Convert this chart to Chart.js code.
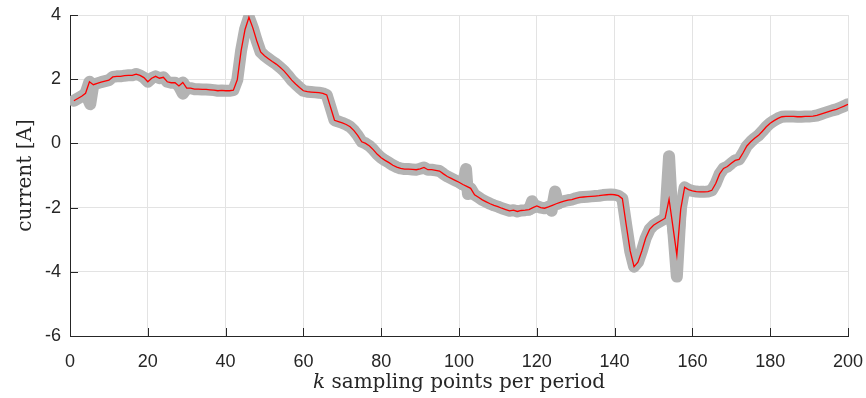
<!DOCTYPE html>
<html>
<head>
<meta charset="utf-8">
<script src="https://cdn.jsdelivr.net/npm/chart.js@4/dist/chart.umd.min.js"></script>
<style>
html,body{margin:0;padding:0;background:#ffffff;}
#wrap{width:866px;height:398px;}
</style>
</head>
<body>
<div id="wrap"><canvas id="c" width="866" height="398"></canvas></div>
<script>
// sampling index k
const kValues = [
  1,2,3,4,5,6,7,8,9,10,11,12,13,14,15,16,17,18,19,20,
  21,22,23,24,25,26,27,28,29,30,31,32,33,34,35,36,37,38,39,40,
  41,42,43,44,45,46,47,48,49,50,51,52,53,54,55,56,57,58,59,60,
  61,62,63,64,65,66,67,68,69,70,71,72,73,74,75,76,77,78,79,80,
  81,82,83,84,85,86,87,88,89,90,91,92,93,94,95,96,97,98,99,100,
  101,102,103,104,105,106,107,108,109,110,111,112,113,114,115,116,117,118,119,120,
  121,122,123,124,125,126,127,128,129,130,131,132,133,134,135,136,137,138,139,140,
  141,142,143,144,145,146,147,148,149,150,151,152,153,154,155,156,157,158,159,160,
  161,162,163,164,165,166,167,168,169,170,171,172,173,174,175,176,177,178,179,180,
  181,182,183,184,185,186,187,188,189,190,191,192,193,194,195,196,197,198,199,200
];
// mean current (red line), A
const meanCurrent = [
  1.33,1.40,1.47,1.56,1.92,1.83,1.87,1.91,1.94,1.97,2.07,2.09,2.09,2.11,2.12,2.12,2.16,2.12,2.05,1.92,
  2.03,2.09,2.03,2.06,1.92,1.89,1.89,1.79,1.90,1.72,1.72,1.69,1.69,1.68,1.68,1.67,1.66,1.64,1.65,1.64,
  1.64,1.66,1.98,2.90,3.55,3.93,3.60,3.20,2.85,2.73,2.64,2.55,2.47,2.37,2.26,2.12,1.97,1.85,1.74,1.64,
  1.61,1.60,1.59,1.58,1.56,1.51,1.12,0.72,0.68,0.64,0.59,0.52,0.40,0.24,0.05,0.00,-0.08,-0.20,-0.34,-0.45,
  -0.53,-0.60,-0.68,-0.74,-0.78,-0.80,-0.80,-0.81,-0.82,-0.79,-0.75,-0.82,-0.82,-0.84,-0.86,-0.95,-1.03,-1.09,-1.15,-1.21,
  -1.28,-1.34,-1.40,-1.60,-1.68,-1.76,-1.82,-1.88,-1.93,-1.97,-2.02,-2.06,-2.10,-2.08,-2.12,-2.09,-2.08,-2.06,-2.00,-1.95,
  -2.00,-2.02,-1.98,-1.93,-1.88,-1.84,-1.80,-1.77,-1.75,-1.71,-1.68,-1.67,-1.66,-1.65,-1.64,-1.63,-1.61,-1.60,-1.59,-1.60,
  -1.63,-1.72,-2.55,-3.35,-3.84,-3.70,-3.35,-2.95,-2.68,-2.55,-2.47,-2.40,-2.33,-1.74,-2.60,-3.48,-2.05,-1.37,-1.44,-1.48,
  -1.50,-1.51,-1.51,-1.50,-1.46,-1.25,-0.95,-0.78,-0.72,-0.62,-0.53,-0.50,-0.30,-0.08,0.05,0.16,0.25,0.38,0.52,0.63,
  0.71,0.78,0.83,0.84,0.84,0.84,0.83,0.83,0.84,0.84,0.85,0.87,0.91,0.95,0.99,1.03,1.06,1.11,1.16,1.22
];
// outlying gray sample excursions (null separates segments)
const spikeK = [4,5.2,6, null, 28,29,30, null, 101,101.8,102.3,103, null, 118,118.8,119.5, null, 123,123.8,124.7,125.5, null, 153,154,155,156,157];
const spikeV = [1.56,1.22,1.83, null, 1.79,1.55,1.72, null, -1.28,-0.80,-1.58,-1.45, null, -2.06,-1.80,-1.97, null, -1.98,-2.10,-1.50,-1.88, null, -2.33,-0.40,-2.60,-4.15,-2.05];

const xTicks = [0,20,40,60,80,100,120,140,160,180,200];
const yTicks = [-6,-4,-2,0,2,4];

const meanPts = kValues.map((k,i)=>({x:k, y:meanCurrent[i]}));
const spikePts = spikeK.map((k,i)=>({x:(k===null?null:k), y:spikeV[i]}));

const GRAY = '#b3b3b3';
const AXIS = '#262626';
const GRID = '#e3e3e3';
const tickFont = {family:'"Liberation Sans", Arial, Helvetica, sans-serif', size:18};

const innerTicks = {
  id:'innerTicks',
  afterDraw(chart){
    const ctx = chart.ctx, xs = chart.scales.x, ys = chart.scales.y, a = chart.chartArea;
    ctx.save();
    ctx.strokeStyle = AXIS; ctx.lineWidth = 1;
    ctx.beginPath();
    xTicks.forEach(v=>{
      const px = Math.round(xs.getPixelForValue(v)) + 0.5;
      ctx.moveTo(px, a.bottom); ctx.lineTo(px, a.bottom - 8);
    });
    yTicks.forEach(v=>{
      const py = Math.round(ys.getPixelForValue(v)) + 0.5;
      ctx.moveTo(a.left, py); ctx.lineTo(a.left + 8, py);
    });
    ctx.stroke();
    // x axis title with italic k
    const cx = (a.left + a.right) / 2;
    const base = 388;
    ctx.fillStyle = AXIS;
    ctx.textBaseline = 'alphabetic';
    const fi = 'italic 20px "DejaVu Serif", serif';
    const fn = '20px "DejaVu Serif", serif';
    ctx.font = fi; const w1 = ctx.measureText('k').width;
    ctx.font = fn; const rest = ' sampling points per period'; const w2 = ctx.measureText(rest).width;
    const x0 = cx - (w1 + w2) / 2;
    ctx.textAlign = 'left';
    ctx.font = fi; ctx.fillText('k', x0, base);
    ctx.font = fn; ctx.fillText(rest, x0 + w1, base);
    ctx.restore();
  }
};

new Chart(document.getElementById('c'), {
  type:'line',
  data:{
    datasets:[
      {label:'mean', data:meanPts, borderColor:'#ff0000', borderWidth:1.3, pointRadius:0, tension:0, fill:false},
      {label:'spikes', data:spikePts, borderColor:GRAY, borderWidth:12, pointRadius:0, tension:0, spanGaps:false,
        borderCapStyle:'round', borderJoinStyle:'round', fill:false},
      {label:'samples', data:meanPts, borderColor:GRAY, borderWidth:12, pointRadius:0, tension:0,
        borderCapStyle:'round', borderJoinStyle:'round', fill:false}
    ]
  },
  options:{
    responsive:false,
    animation:false,
    events:[],
    layout:{padding:{top:15, right:18, left:0, bottom:0}},
    plugins:{legend:{display:false}, tooltip:{enabled:false}},
    scales:{
      x:{
        type:'linear', min:0, max:200,
        afterBuildTicks:s=>{ s.ticks = xTicks.map(v=>({value:v})); },
        afterFit:s=>{ s.height = 62; s.paddingRight = 0; s.paddingLeft = 0; },
        ticks:{font:tickFont, color:AXIS, padding:15, maxRotation:0, autoSkip:false},
        grid:{color:GRID, lineWidth:1, drawTicks:false},
        border:{display:true, color:AXIS, width:1}
      },
      y:{
        type:'linear', min:-6, max:4,
        afterBuildTicks:s=>{ s.ticks = yTicks.map(v=>({value:v})); },
        afterFit:s=>{ s.width = 70; s.paddingTop = 0; s.paddingBottom = 0; },
        ticks:{font:tickFont, color:AXIS, padding:9, autoSkip:false},
        grid:{color:GRID, lineWidth:1, drawTicks:false},
        border:{display:true, color:AXIS, width:1},
        title:{display:true, text:'current [A]', color:AXIS,
          font:{family:'"DejaVu Serif", serif', size:20}, padding:{top:14, bottom:0}}
      }
    }
  },
  plugins:[innerTicks]
});
</script>
</body>
</html>
